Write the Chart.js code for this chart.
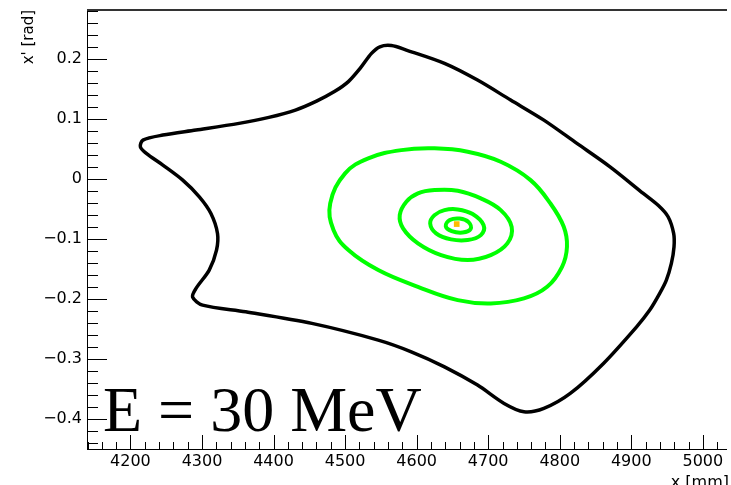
<!DOCTYPE html>
<html><head><meta charset="utf-8">
<script src="https://cdn.jsdelivr.net/npm/chart.js@4/dist/chart.umd.min.js"></script>
<style>html,body{margin:0;padding:0;background:#fff;}#c{display:block;}</style>
</head><body>
<canvas id="c" width="731" height="485"></canvas>
<script>
// ---- data ----
const blackX = [4548.6,4564.7,4585.6,4638.9,4685.1,4731.4,4777.8,4824.0,4870.3,4916.7,4937.9,4951.4,4959.2,4959.7,4956.0,4949.0,4939.7,4925.8,4907.4,4861.1,4814.7,4777.8,4750.0,4722.2,4685.1,4638.9,4592.5,4546.3,4453.6,4361.1,4300.8,4286.9,4291.7,4310.1,4320.3,4321.7,4312.5,4296.3,4273.1,4245.3,4222.2,4213.9,4217.5,4245.3,4291.7,4351.8,4393.5,4430.6,4460.1,4485.1,4504.6,4521.3,4536.9];
const blackY = [0.2209,0.2229,0.2154,0.1932,0.1653,0.1319,0.0985,0.0596,0.0205,-0.0239,-0.0442,-0.0629,-0.0907,-0.1130,-0.1407,-0.1686,-0.1908,-0.2187,-0.2466,-0.3077,-0.3578,-0.3828,-0.3885,-0.3745,-0.3439,-0.3134,-0.2883,-0.2688,-0.2409,-0.2215,-0.2104,-0.1970,-0.1825,-0.1519,-0.1185,-0.0907,-0.0573,-0.0295,-0.0017,0.0234,0.0429,0.0539,0.0651,0.0735,0.0818,0.0930,0.1030,0.1152,0.1302,0.1461,0.1628,0.1853,0.2098];

const ring1X = [4479.2,4500.0,4532.4,4578.6,4625.0,4671.3,4717.5,4759.2,4786.9,4805.6,4810.1,4803.2,4782.4,4750.0,4703.6,4657.4,4601.8,4546.3,4504.6,4483.8];
const ring1Y = [-0.0406,0.0095,0.0346,0.0484,0.0513,0.0456,0.0289,-0.0017,-0.0406,-0.0796,-0.1130,-0.1464,-0.1798,-0.1992,-0.2075,-0.2020,-0.1798,-0.1519,-0.1185,-0.0851];

const ring2X = [4576.4,4585.6,4601.8,4625.0,4657.4,4689.7,4717.5,4732.8,4726.8,4703.6,4671.3,4634.2,4601.8,4581.0];
const ring2Y = [-0.0601,-0.0379,-0.0239,-0.0184,-0.0195,-0.0322,-0.0518,-0.0796,-0.1073,-0.1269,-0.1352,-0.1269,-0.1073,-0.0823];

const ring3X = [4618.9,4625.0,4638.9,4657.4,4678.2,4693.5,4689.7,4671.3,4648.1,4627.2];
const ring3Y = [-0.0740,-0.0601,-0.0518,-0.0506,-0.0584,-0.0768,-0.0935,-0.1018,-0.1007,-0.0907];

const ring4X = [4640.7,4646.3,4660.1,4672.6,4675.4,4664.3,4649.0];
const ring4Y = [-0.0785,-0.0684,-0.0659,-0.0718,-0.0835,-0.0893,-0.0868];

const centerX = [4656];
const centerY = [-0.0751];

const xTickValues = [4200,4300,4400,4500,4600,4700,4800,4900,5000];
const yTickValues = [-0.4,-0.3,-0.2,-0.1,0,0.1,0.2];
const xTitle = 'x [mm]';
const yTitle = "x' [rad]";
const energyLabel = 'E = 30 MeV';

// ---- helpers ----
// closed smooth loop: wrap one point on each side, hide the two helper segments
function loopDataset(xs, ys, color, width, tension){
  const n = xs.length;
  const idx = [n-1];
  for (let i = 0; i < n; i++) idx.push(i);
  idx.push(0, 1);
  const data = idx.map(i => ({x: xs[i], y: ys[i]}));
  const m = data.length;
  return {
    data: data, showLine: true, borderColor: color, borderWidth: width,
    pointRadius: 0, tension: tension, borderJoinStyle: 'round',
    segment: {borderColor: c => (c.p0DataIndex === 0 || c.p1DataIndex === m-1) ? 'rgba(0,0,0,0)' : color}
  };
}
function fmtY(v){
  if (Math.abs(v) < 1e-9) return '0';
  return v.toFixed(1).replace('-', '\u2212');
}

const rootFrame = {
  id: 'rootFrame',
  afterDraw(chart){
    const {ctx, chartArea:a, scales:{x, y}} = chart;
    ctx.save();
    ctx.strokeStyle = '#000';
    ctx.lineWidth = 1;
    ctx.beginPath();
    ctx.moveTo(a.left+0.5, a.top); ctx.lineTo(a.left+0.5, a.bottom+1);
    ctx.moveTo(a.left, a.bottom+0.5); ctx.lineTo(a.right, a.bottom+0.5);
    for (let k = Math.ceil(x.min/20); k*20 <= x.max; k++) {
      const px = Math.round(x.getPixelForValue(k*20)) + 0.5;
      const len = (k % 5 === 0) ? 14 : 7;
      ctx.moveTo(px, a.bottom); ctx.lineTo(px, a.bottom - len);
    }
    for (let k = Math.ceil(y.min/0.02 - 1e-9); k*0.02 <= y.max + 1e-9; k++) {
      const py = Math.round(y.getPixelForValue(k*0.02)) + 0.5;
      const len = (k % 5 === 0) ? 20 : 11;
      ctx.moveTo(a.left, py); ctx.lineTo(a.left + len, py);
    }
    ctx.stroke();
    ctx.strokeStyle = '#333';
    ctx.lineWidth = 2;
    ctx.beginPath();
    ctx.moveTo(a.left, a.top); ctx.lineTo(a.right, a.top);
    ctx.stroke();

    ctx.fillStyle = '#000';
    ctx.font = '16px "DejaVu Sans"';
    ctx.textAlign = 'right';
    ctx.textBaseline = 'alphabetic';
    ctx.fillText(xTitle, 729, 487);

    ctx.save();
    ctx.translate(33, 10);
    ctx.rotate(-Math.PI/2);
    ctx.font = '15px "DejaVu Sans"';
    ctx.textAlign = 'right';
    ctx.fillText(yTitle, 0, 0);
    ctx.restore();

    ctx.font = '64px "Liberation Serif"';
    ctx.textAlign = 'left';
    ctx.fillText(energyLabel, 103, 431);
    ctx.restore();
  }
};

new Chart(document.getElementById('c'), {
  type: 'scatter',
  data: {
    datasets: [
      loopDataset(blackX, blackY, '#000000', 3.5, 0.3),
      loopDataset(ring1X, ring1Y, '#00ff00', 4, 0.4),
      loopDataset(ring2X, ring2Y, '#00ff00', 4, 0.4),
      loopDataset(ring3X, ring3Y, '#00ff00', 4, 0.4),
      loopDataset(ring4X, ring4Y, '#00ff00', 4, 0.4),
      {data: centerX.map((x,i)=>({x:x, y:centerY[i]})), showLine: false, pointStyle: 'rect', pointRadius: 4, backgroundColor: '#ffbb00', borderColor: '#ffbb00', borderWidth: 0}
    ]
  },
  options: {
    responsive: false,
    animation: false,
    events: [],
    layout: {padding: {top: 10, right: 0, left: 0, bottom: 0}},
    plugins: {legend: {display: false}, tooltip: {enabled: false}},
    scales: {
      x: {
        type: 'linear', min: 4139.3, max: 5033.75,
        grid: {display: false, drawTicks: false},
        border: {display: false},
        afterBuildTicks: s => { s.ticks = xTickValues.map(v => ({value: v})); },
        afterFit: s => { s.height = 36; s.paddingLeft = 0; s.paddingRight = 0; },
        ticks: {padding: 3, color: '#000', font: {family: 'DejaVu Sans', size: 16}, maxRotation: 0, autoSkip: false, callback: v => String(v)}
      },
      y: {
        type: 'linear', min: -0.4506, max: 0.2823,
        grid: {display: false, drawTicks: false},
        border: {display: false},
        afterBuildTicks: s => { s.ticks = yTickValues.map(v => ({value: v})); },
        afterFit: s => { s.width = 87; s.paddingTop = 0; s.paddingBottom = 0; },
        ticks: {padding: 5, color: '#000', font: {family: 'DejaVu Sans', size: 16}, autoSkip: false, callback: v => fmtY(v)}
      }
    }
  },
  plugins: [rootFrame]
});
</script>
</body></html>
